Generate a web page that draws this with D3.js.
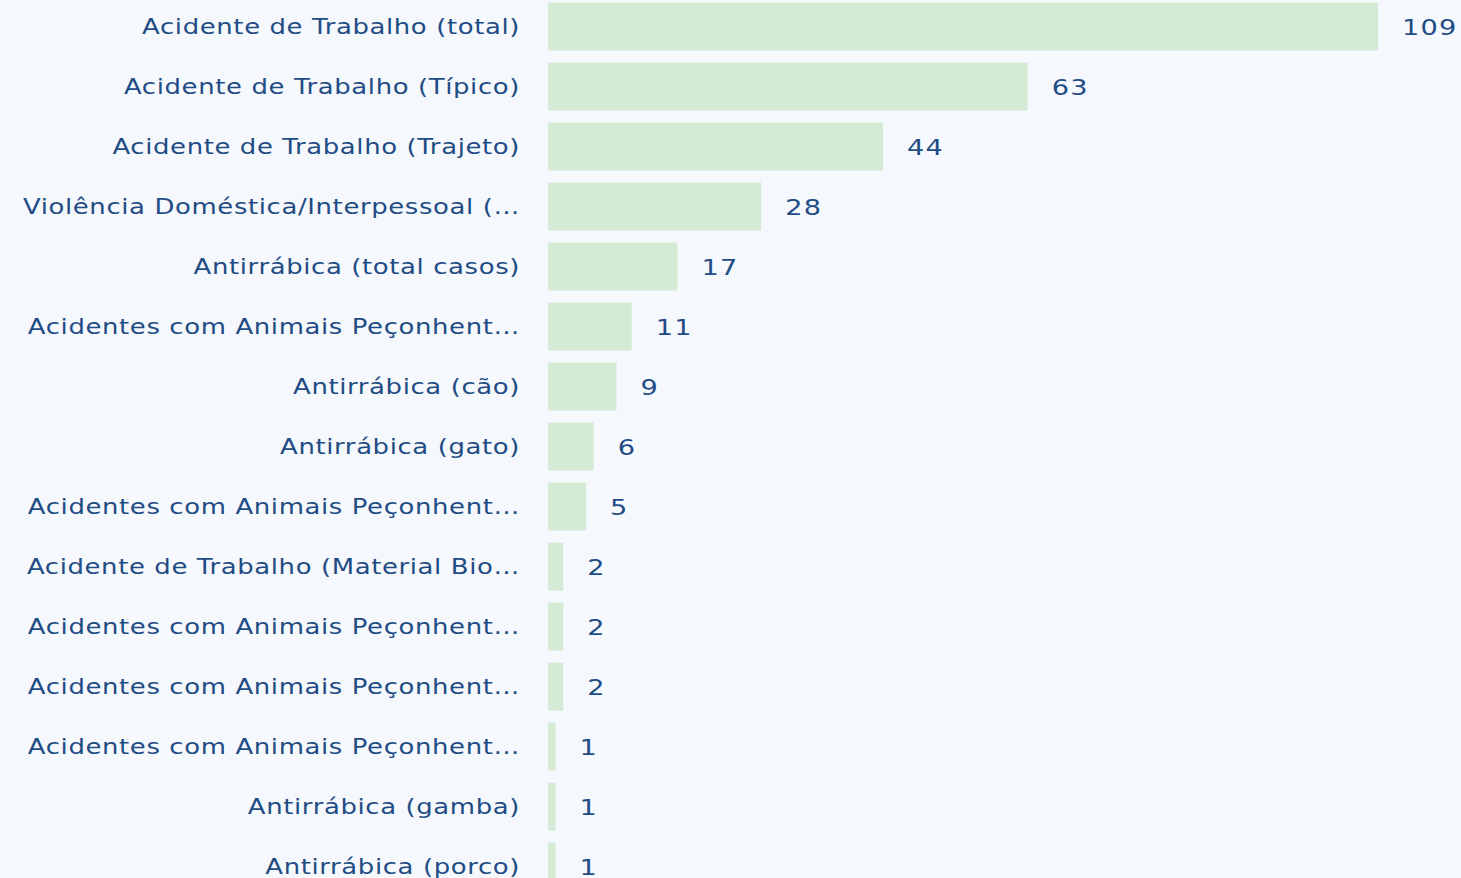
<!DOCTYPE html>
<html>
<head>
<meta charset="utf-8">
<script src="https://cdn.jsdelivr.net/npm/d3@7"></script>
<style>
  html, body { margin: 0; padding: 0; background: #f5f8fd; overflow: hidden; }
  svg { display: block; }
  text { font-family: "DejaVu Sans", Verdana, sans-serif; fill: #1f4c84; }
</style>
</head>
<body>
<svg id="chart"></svg>
<script>
// categories, as shown (long ones are cut in the original)
const categories = [
  "Acidente de Trabalho (total)",
  "Acidente de Trabalho (Típico)",
  "Acidente de Trabalho (Trajeto)",
  "Violência Doméstica/Interpessoal (…",
  "Antirrábica (total casos)",
  "Acidentes com Animais Peçonhent…",
  "Antirrábica (cão)",
  "Antirrábica (gato)",
  "Acidentes com Animais Peçonhent…",
  "Acidente de Trabalho (Material Bio…",
  "Acidentes com Animais Peçonhent…",
  "Acidentes com Animais Peçonhent…",
  "Acidentes com Animais Peçonhent…",
  "Antirrábica (gamba)",
  "Antirrábica (porco)"
];
const values = [109, 63, 44, 28, 17, 11, 9, 6, 5, 2, 2, 2, 1, 1, 1];

const width = 1461;
const height = 878;
const margin = { top: -4, left: 548 };
const step = 60;
const stretch = 1.235; // the original text is drawn wider than normal

const svg = d3.select("#chart")
  .attr("width", width)
  .attr("height", height);

// ids so repeated labels stay separate bands
const ids = categories.map((c, i) => i);

const y = d3.scaleBand()
  .domain(ids)
  .range([margin.top, margin.top + step * ids.length])
  .paddingInner(0.217)
  .paddingOuter(0.1085);

const x = d3.scaleLinear()
  .domain([0, 109])
  .range([margin.left, 1378]);

// bars
svg.append("g")
  .selectAll("rect")
  .data(values)
  .join("rect")
  .attr("x", x(0))
  .attr("y", (d, i) => y(i))
  .attr("width", d => x(d) - x(0))
  .attr("height", y.bandwidth() + 1)
  .attr("fill", "#d5ead5");

// category labels
svg.append("g")
  .selectAll("text")
  .data(categories)
  .join("text")
  .attr("transform", (d, i) =>
    "translate(520," + (y(i) + y.bandwidth() / 2 + 1) + ") scale(" + stretch + ",1)")
  .attr("dy", "0.35em")
  .attr("text-anchor", "end")
  .style("font-size", "21px")
  .style("letter-spacing", "0.5px")
  .text(d => d);

// value labels
svg.append("g")
  .selectAll("text")
  .data(values)
  .join("text")
  .attr("transform", (d, i) =>
    "translate(" + (x(d) + 24) + "," + (y(i) + y.bandwidth() / 2 + 1) + ") scale(" + stretch + ",1)")
  .attr("dy", "0.35em")
  .style("font-size", "22px")
  .style("letter-spacing", "1px")
  .text(d => d);
</script>
</body>
</html>
